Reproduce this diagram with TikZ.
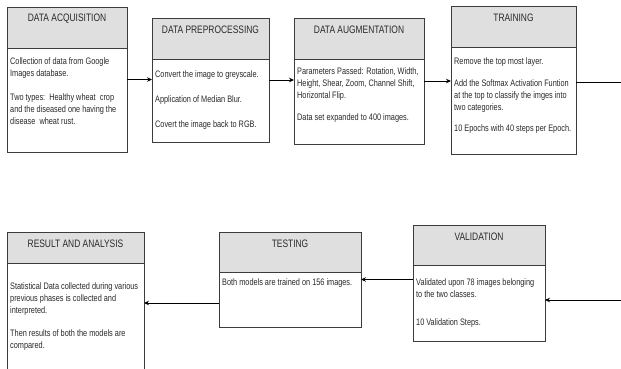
\documentclass[tikz,border=0pt]{standalone}
\usepackage{fontspec}
\setmainfont[FakeStretch=0.78]{Liberation Sans}
\usetikzlibrary{arrows.meta}
\definecolor{headgray}{HTML}{DFDFDF}
\definecolor{framegray}{HTML}{3C3C3C}
\definecolor{textgray}{HTML}{2A2A2A}
\tikzset{
  boxframe/.style={draw=framegray, line width=0.9pt, inner sep=0pt, outer sep=0pt},
  headbox/.style={boxframe, fill=headgray},
  titletext/.style={font=\fontsize{10.8}{12}\selectfont, text=textgray, inner sep=0pt},
  bodytext/.style={font=\fontsize{9.4}{12.2}\selectfont, text=textgray, inner sep=0pt, align=left, anchor=north west},
  conn/.style={draw=black, line width=0.9pt},
  arrowconn/.style={conn, -{Stealth[length=5pt,width=4.5pt]}},
}
% #1 name, #2 left, #3 top, #4 right, #5 header bottom, #6 bottom, #7 title
\newcommand{\stagebox}[7]{%
  \node[boxframe, anchor=north west, minimum width={#4-#2}, minimum height={#6-#3}] (#1) at (#2,#3) {};
  \node[headbox, anchor=north west, minimum width={#4-#2}, minimum height={#5-#3}] (#1h) at (#2,#3) {};
  \node[titletext] (#1t) at ({(#2+#4)/2},{#3+12}) {#7};
}
\begin{document}
\begin{tikzpicture}[x=1pt,y=-1pt]
\path[use as bounding box] (0,0) rectangle (621,368);
\clip (0,0) rectangle (621,368);
\fill[white] (0,0) rectangle (621,368);

\stagebox{acq}{7}{7}{127}{48}{152}{DATA ACQUISITION}
\stagebox{pre}{152}{18}{269}{59}{142}{DATA PREPROCESSING}
\stagebox{aug}{294}{18}{424}{59}{144}{DATA AUGMENTATION}
\stagebox{tra}{451}{6}{576}{47}{154}{TRAINING}
\stagebox{res}{7}{232}{144}{263}{374}{RESULT AND ANALYSIS}
\stagebox{tes}{219}{232}{361}{272}{327}{TESTING}
\stagebox{val}{413}{225}{545}{265}{341}{VALIDATION}

\node[bodytext] (acqb) at (10,57) {Collection of data from Google\\Images database.\\[12pt]Two types:\ \ Healthy wheat\ \ crop\\and the diseased one having the\\disease\ \ wheat rust.};
\node[bodytext] (preb) at (155,70) {Convert the image to greyscale.\\[13pt]Application of Median Blur.\\[13pt]Covert the image back to RGB.};
\node[bodytext] (augb) at (297,67) {Parameters Passed: Rotation, Width,\\Height, Shear, Zoom, Channel Shift,\\Horizontal Flip.\\[10pt]Data set expanded to 400 images.};
\node[bodytext] (trab) at (454,57) {Remove the top most layer.\\[10pt]Add the Softmax Activation Funtion\\at the top to classify the imges into\\two categories.\\[9pt]10 Epochs with 40 steps per Epoch.};
\node[bodytext] (resb) at (10,282) {Statistical Data collected during various\\previous phases is collected and\\interpreted.\\[11pt]Then results of both the models are\\compared.};
\node[bodytext] (tesb) at (222,278) {Both models are trained on 156 images.};
\node[bodytext] (valb) at (416,278) {Validated upon 78 images belonging\\to the two classes.\\[16pt]10 Validation Steps.};

\coordinate (outR) at (621,82);
\coordinate (inR) at (621,300);

\draw[arrowconn] (acq.east) -- (acq.east -| pre.west);
\draw[arrowconn] (pre.east) -- (pre.east -| aug.west);
\draw[arrowconn] (aug.east) -- (aug.east -| tra.west);
\draw[conn] (tra.east |- outR) -- (outR);
\draw[arrowconn] (inR) -- (inR -| val.east);
\draw[arrowconn] (val.west |- tes.east) -- (tes.east);
\draw[arrowconn] (tes.west |- res.east) -- (res.east);
\end{tikzpicture}
\end{document}
